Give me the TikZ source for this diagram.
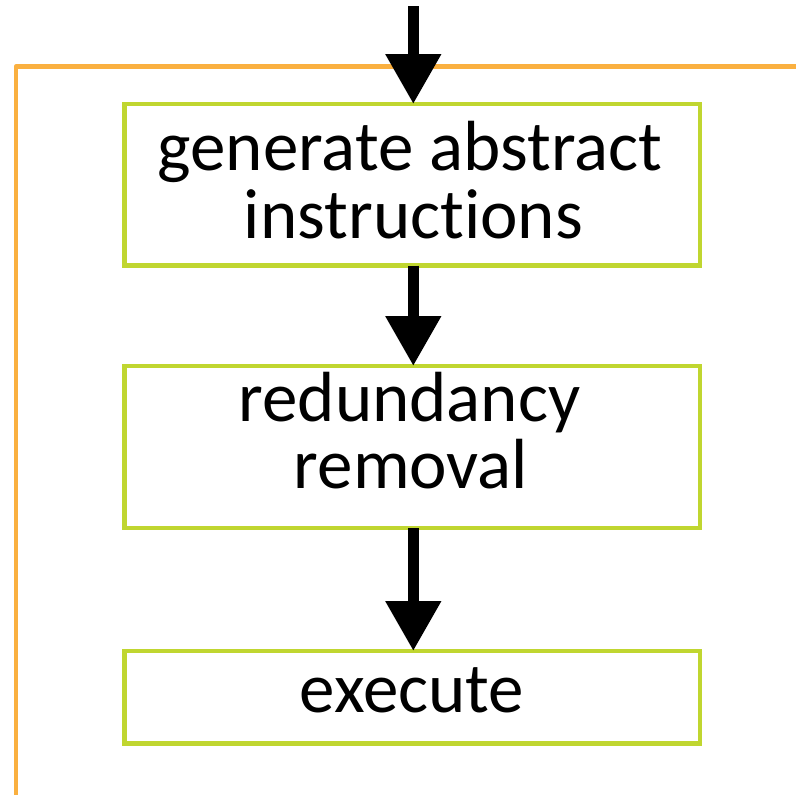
\documentclass[tikz,border=0pt]{standalone}
\usepackage{fontspec}
\setmainfont{Carlito}[Ligatures=NoCommon]
\usetikzlibrary{arrows.meta}
\definecolor{frameorange}{RGB}{250,176,64}
\definecolor{boxgreen}{RGB}{192,214,48}
\tikzset{
  stagebox/.style={draw=boxgreen, line width=4.5pt, rectangle, outer sep=0pt,
    minimum width=575.5pt, inner sep=0pt},
  stagetext/.style={anchor=base, inner sep=0pt, font=\fontsize{71}{68}\selectfont},
  flow/.style={line width=11.3pt, -{Triangle[length=50pt,width=53pt]}}
}
\begin{document}
\begin{tikzpicture}[x=1pt,y=-1pt]
  \useasboundingbox (0,0) rectangle (796,795);
  % outer loop frame, partly running off the page
  \begin{scope}
    \clip (0,0) rectangle (796,795);
    \draw[frameorange, line width=4.5pt, line join=round] (16,66.5) rectangle (830,797);
  \end{scope}
  % stages
  \node[stagebox, minimum height=161.5pt] (gen) at (412.25,184.75) {};
  \node[stagebox, minimum height=162pt] (red) at (412.25,447) {};
  \node[stagebox, minimum height=92.7pt] (exe) at (412.25,697.35) {};
  \node[stagetext] (gen1) at (410,170) {generate abstract};
  \node[stagetext] (gen2) at (413.5,238) {instructions};
  \node[stagetext] (red1) at (409.5,421) {redundancy};
  \node[stagetext] (red2) at (411,488) {removal};
  \node[stagetext] (exe1) at (412,712) {execute};
  % flow arrows
  \coordinate (in) at (413.3,6);
  \draw[flow] (in) -- (in |- gen.north);
  \draw[flow] (gen.south -| in) -- (red.north -| in);
  \draw[flow] (red.south -| in) -- (exe.north -| in);
\end{tikzpicture}
\end{document}
